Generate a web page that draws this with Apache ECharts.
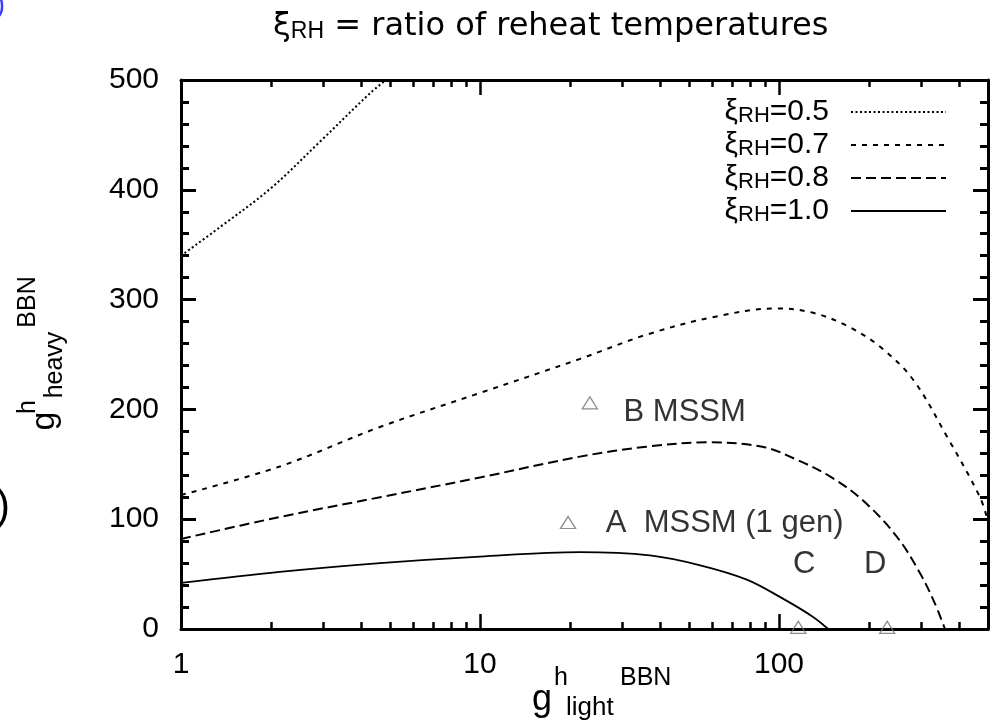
<!DOCTYPE html>
<html>
<head>
<meta charset="utf-8">
<script src="https://cdn.jsdelivr.net/npm/echarts@6/dist/echarts.min.js"></script>
<style>
html,body{margin:0;padding:0;background:#fff;}
#chart{width:990px;height:727px;}
</style>
</head>
<body>
<div id="chart"></div>
<script>
// ---- data ----
const xiNames = ['0.5', '0.7', '0.8', '1.0'];
const xi05 = [[1, 340], [1.35, 366], [1.99, 401], [2.92, 444], [4.29, 488], [4.85, 500]];
const xi07 = [[1, 122], [2.14, 148], [4.63, 184], [10, 215], [21.6, 246], [36, 268], [60, 284], [98.5, 292], [130, 288], [169, 276], [218, 257], [281, 227], [365, 175], [470, 120], [500, 98]];
const xi08 = [[1, 82], [2.14, 102], [4.63, 120], [10, 138], [21.6, 157], [36, 166], [57.4, 170], [88, 166], [115, 154], [148, 139], [191, 117], [248, 84], [296, 51], [330, 25], [359, 0]];
const xi10 = [[1, 42], [2.14, 52], [4.63, 60], [10, 66], [21.6, 70], [37, 67], [54.5, 58], [78, 45], [101, 29], [130, 11], [146, 0]];
const pointNames = ['A  MSSM (1 gen)', 'B MSSM', 'C', 'D'];
const pointX = [19.7, 23.3, 116, 230];
const pointY = [97, 206, 1.5, 1.5];
const xMajorTicks = [1, 10, 100];
const xMinorTicks = [2, 3, 4, 5, 6, 7, 8, 9, 20, 30, 40, 50, 60, 70, 80, 90, 200, 300, 400];
const yMin = 0, yMax = 500, yStep = 100;

const FONT = "'Liberation Sans', Arial, sans-serif";
const TFONT = "'DejaVu Sans', 'Liberation Sans', sans-serif";
const curves = [xi05, xi07, xi08, xi10];
const dashTypes = [[2, 2.5], [5, 6], [10, 5], 'solid'];
const lineWidths = [2, 2, 2, 1.8];

const chart = echarts.init(document.getElementById('chart'));

const labelLayouts = [
  {position: 'right', distance: 29.5, offset: [0, 1]},
  {position: 'right', distance: 25.5, offset: [0, 10]},
  {position: 'inside', offset: [6, -63]},
  {position: 'inside', offset: [-12, -63]}
];

function xAxisDef(pos, major, showLabel, showLine) {
  return {
    type: 'log', logBase: 10, min: 1, max: 500, position: pos, gridIndex: 0,
    axisLine: {show: showLine, onZero: false, lineStyle: {color: '#000', width: 3}},
    axisTick: {show: true, inside: true, length: major ? 15 : 7,
      customValues: major ? xMajorTicks : xMinorTicks,
      lineStyle: {color: '#000', width: 2.5}},
    axisLabel: {show: showLabel, customValues: xMajorTicks, fontSize: 30, color: '#000',
      fontFamily: FONT, margin: 21, formatter: v => String(Math.round(v))},
    splitLine: {show: false}, minorTick: {show: false}
  };
}
function yAxisDef(pos, showLabel) {
  return {
    type: 'value', min: yMin, max: yMax, interval: yStep, position: pos, gridIndex: 0,
    axisLine: {show: true, onZero: false, lineStyle: {color: '#000', width: 3}},
    axisTick: {show: true, inside: true, length: 15, lineStyle: {color: '#000', width: 3}},
    minorTick: {show: true, splitNumber: 5, length: 8, lineStyle: {color: '#000', width: 3}},
    axisLabel: {show: showLabel, fontSize: 30, color: '#000', fontFamily: FONT, margin: 22},
    splitLine: {show: false}
  };
}

const series = curves.map((c, i) => ({
  name: xiNames[i], type: 'line', xAxisIndex: 0, yAxisIndex: 0,
  data: c, symbol: 'none', smooth: 0.35, clip: true,
  lineStyle: {color: '#000', width: lineWidths[i], type: dashTypes[i]},
  z: 5
}));
series.push({
  name: 'points', type: 'scatter', xAxisIndex: 0, yAxisIndex: 0,
  symbol: 'triangle', symbolSize: [15, 12], clip: false, z: 10,
  itemStyle: {color: 'rgba(255,255,255,0)', borderColor: '#707070', borderWidth: 1.3},
  data: pointX.map((x, i) => ({
    value: [x, pointY[i]], name: pointNames[i],
    label: Object.assign({show: true, formatter: pointNames[i], fontSize: 31, color: '#000',
      textBorderWidth: 0, fontFamily: FONT}, labelLayouts[i])
  }))
});

const option = {
  backgroundColor: '#fff',
  animation: false,
  title: {
    text: '{x|ξ}{s|RH}{t| = ratio of reheat temperatures}',
    left: 273, top: 11, padding: 0,
    textStyle: {
      fontFamily: TFONT, fontWeight: 'normal',
      rich: {
        x: {fontSize: 32, lineHeight: 32, color: '#000', fontFamily: TFONT, fontWeight: 'normal'},
        s: {fontSize: 23, lineHeight: 12, verticalAlign: 'bottom', color: '#000', fontFamily: FONT, fontWeight: 'normal'},
        t: {fontSize: 32, lineHeight: 32, color: '#000', fontFamily: TFONT, fontWeight: 'normal'}
      }
    }
  },
  grid: {left: 181, right: 2, top: 80, bottom: 98, containLabel: false},
  legend: {
    data: xiNames, orient: 'vertical', right: 43, top: 97, align: 'right', padding: 0,
    itemWidth: 95, itemHeight: 14, itemGap: 3,
    itemStyle: {opacity: 0},
    formatter: name => '{x|ξ}{s|RH}{n|=' + name + '}{g|}',
    textStyle: {
      fontFamily: FONT,
      rich: {
        x: {fontSize: 30, lineHeight: 30, color: '#000', fontFamily: FONT},
        s: {fontSize: 22, lineHeight: 12, verticalAlign: 'bottom', color: '#000', fontFamily: FONT},
        n: {fontSize: 30, lineHeight: 30, color: '#000', fontFamily: FONT},
        g: {width: 17, lineHeight: 30}
      }
    }
  },
  xAxis: [
    xAxisDef('bottom', true, true, true),
    xAxisDef('bottom', false, false, false),
    xAxisDef('top', true, false, true),
    xAxisDef('top', false, false, false)
  ],
  yAxis: [yAxisDef('left', true), yAxisDef('right', false)],
  series: series,
  graphic: [
    // x axis name: g^h_light^BBN
    {type: 'text', x: 542, y: 700, style: {text: 'g', fontSize: 36, fontFamily: FONT, fill: '#000', align: 'center', verticalAlign: 'middle'}},
    {type: 'text', x: 554, y: 678, style: {text: 'h', fontSize: 25, fontFamily: FONT, fill: '#000', align: 'left', verticalAlign: 'middle'}},
    {type: 'text', x: 566, y: 708, style: {text: 'light', fontSize: 26, fontFamily: FONT, fill: '#000', align: 'left', verticalAlign: 'middle'}},
    {type: 'text', x: 620, y: 678, style: {text: 'BBN', fontSize: 25, fontFamily: FONT, fill: '#000', align: 'left', verticalAlign: 'middle'}},
    // y axis name: g^h_heavy^BBN (rotated)
    {type: 'text', x: 45, y: 421, rotation: Math.PI / 2, style: {text: 'g', fontSize: 34, fontFamily: FONT, fill: '#000', align: 'center', verticalAlign: 'middle'}},
    {type: 'text', x: 28, y: 407, rotation: Math.PI / 2, style: {text: 'h', fontSize: 25, fontFamily: FONT, fill: '#000', align: 'center', verticalAlign: 'middle'}},
    {type: 'text', x: 55, y: 365, rotation: Math.PI / 2, style: {text: 'heavy', fontSize: 25, fontFamily: FONT, fill: '#000', align: 'center', verticalAlign: 'middle'}},
    {type: 'text', x: 28, y: 302, rotation: Math.PI / 2, style: {text: 'BBN', fontSize: 25, fontFamily: FONT, fill: '#000', align: 'center', verticalAlign: 'middle'}},
    // fragments from neighbouring panels
    {type: 'text', x: 10, y: 507, style: {text: ')', fontSize: 42, fontFamily: FONT, fill: '#000', align: 'right', verticalAlign: 'middle'}},
    {type: 'text', x: 5, y: 5, style: {text: ')', fontSize: 28, fontFamily: FONT, fill: '#3a3aff', align: 'right', verticalAlign: 'middle'}}
  ]
};
chart.setOption(option);
</script>
</body>
</html>
